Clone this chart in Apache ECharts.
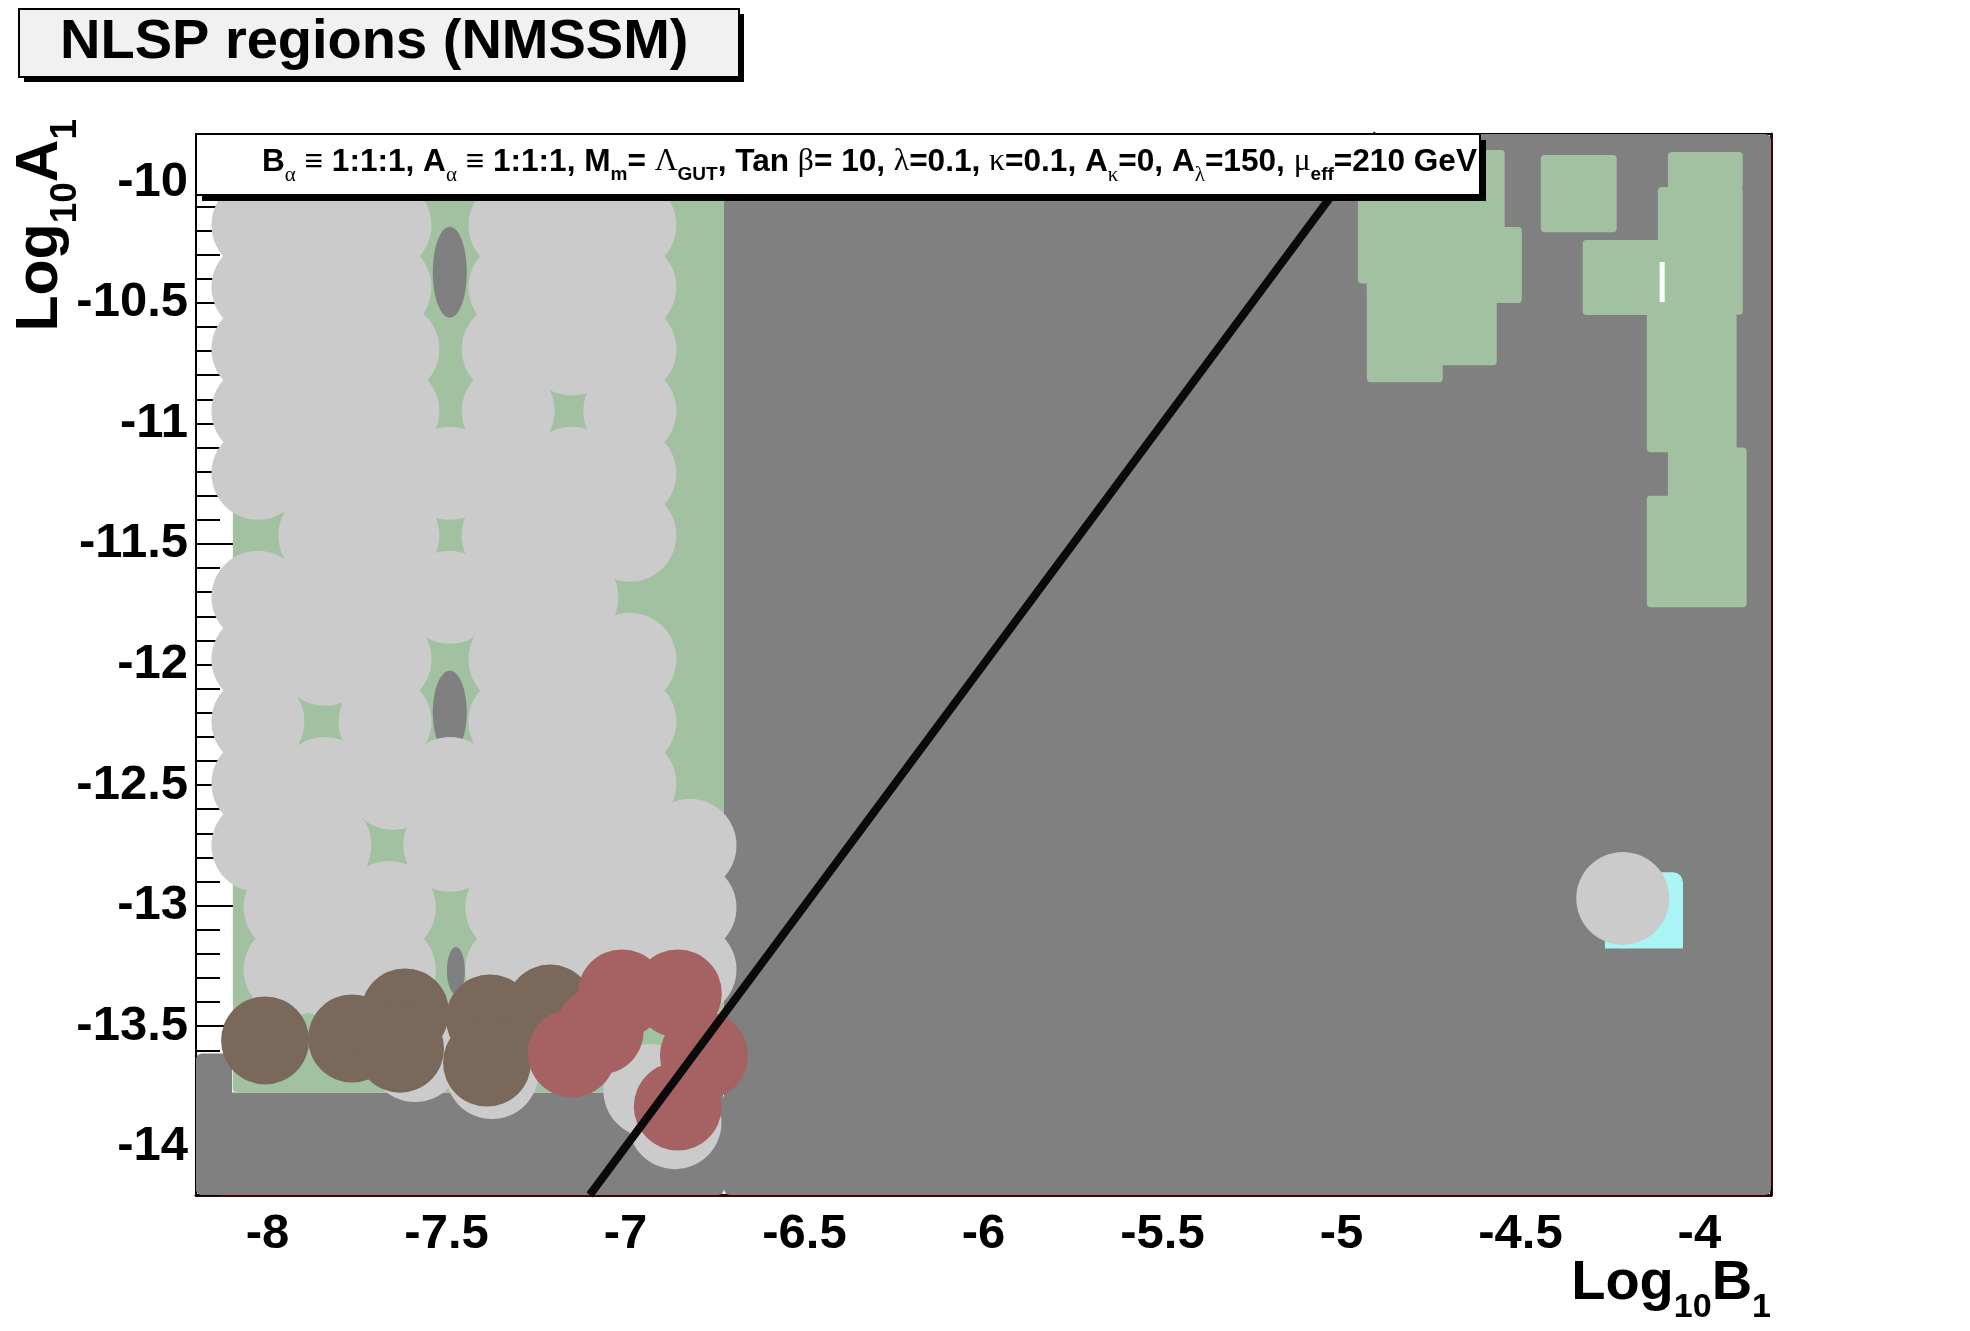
<!DOCTYPE html>
<html><head><meta charset="utf-8">
<script src="https://cdn.jsdelivr.net/npm/echarts@6.0.0/dist/echarts.min.js"></script>
<style>html,body{margin:0;padding:0;background:#fff}#c{width:1970px;height:1331px}</style>
</head><body><div id="c"></div>
<script>
// ---------------- data (log10 B1 , log10 A1) ----------------
const xRange = [-8.2, -3.8];
const yRange = [-14.2, -9.8];
const xTickValues = [-8, -7.5, -7, -6.5, -6, -5.5, -5, -4.5, -4];
const yTickValues = [-14, -13.5, -13, -12.5, -12, -11.5, -11, -10.5, -10];

// rectangular regions [x0, y0, x1, y1]
const darkGreyRegions = [
  [-6.725, -9.8, -3.8, -14.2],
  [-8.2, -13.775, -6.725, -14.2],
  [-8.2, -13.613, -8.099, -14.2],
  [-6.742, -11.397, -6.72, -11.738]
];
const greenRegions = [
  [-8.097, -9.9, -6.725, -13.775],
  [-4.954, -9.866, -4.544, -10.42],
  [-4.929, -10.186, -4.496, -10.501],
  [-4.929, -10.40, -4.566, -10.759],
  [-4.929, -10.74, -4.717, -10.829],
  [-4.443, -9.887, -4.231, -10.207],
  [-4.326, -10.240, -4.111, -10.551],
  [-4.088, -9.875, -3.879, -10.03],
  [-4.116, -10.020, -3.879, -10.55],
  [-4.147, -10.543, -3.896, -11.12],
  [-4.088, -11.10, -3.868, -11.32],
  [-4.147, -11.30, -3.868, -11.763]
];
const cyanRegions = [
  [-4.264, -12.862, -4.046, -13.178]
];
const whiteGaps = [
  [-4.111, -10.331, -4.097, -10.497]
];

// point-like regions
const darkGreyPoints = [[-7.491, -10.373], [-7.491, -12.198], [-7.474, -13.269]];
const lightGreyPoints = [
  [-8.027,-10.178],[-7.840,-10.178],[-7.672,-10.178],[-7.309,-10.178],[-7.150,-10.178],[-6.988,-10.178],
  [-8.027,-10.435],[-7.840,-10.435],[-7.672,-10.435],[-7.309,-10.435],[-7.150,-10.435],[-6.988,-10.435],
  [-8.027,-10.692],[-7.840,-10.692],[-7.650,-10.692],[-7.328,-10.692],[-7.150,-10.692],[-6.988,-10.692],
  [-8.027,-10.949],[-7.840,-10.949],[-7.650,-10.949],[-7.328,-10.949],[-6.988,-10.949],
  [-8.027,-11.207],[-7.840,-11.207],[-7.650,-11.207],[-7.491,-11.207],[-7.328,-11.207],[-7.150,-11.207],[-6.988,-11.207],
  [-7.840,-11.464],[-7.650,-11.464],[-7.328,-11.464],[-7.150,-11.464],[-6.988,-11.464],
  [-8.027,-11.721],[-7.840,-11.721],[-7.650,-11.721],[-7.491,-11.721],[-7.328,-11.721],[-7.150,-11.721],
  [-8.027,-11.978],[-7.840,-11.978],[-7.672,-11.978],[-7.309,-11.978],[-7.150,-11.978],[-6.988,-11.978],
  [-8.027,-12.236],[-7.672,-12.236],[-7.309,-12.236],[-7.150,-12.236],[-6.988,-12.236],
  [-8.027,-12.493],[-7.840,-12.493],[-7.650,-12.493],[-7.491,-12.493],[-7.328,-12.493],[-7.150,-12.493],[-6.988,-12.493],
  [-8.027,-12.750],[-7.840,-12.750],[-7.491,-12.750],[-7.328,-12.750],[-7.150,-12.750],[-6.988,-12.750],[-6.820,-12.750],
  [-7.937,-13.008],[-7.840,-13.008],[-7.660,-13.008],[-7.318,-13.008],[-7.150,-13.008],[-6.988,-13.008],[-6.820,-13.008],
  [-7.937,-13.265],[-7.840,-13.265],[-7.660,-13.265],[-7.318,-13.265],[-7.150,-13.265],[-6.988,-13.265],[-6.820,-13.265],
  [-7.588,-13.622],[-7.373,-13.692],[-6.862,-13.900],[-6.932,-13.767],
  [-4.214,-12.970]
];
const brownPoints = [
  [-8.007,-13.559],[-7.764,-13.551],[-7.616,-13.443],[-7.630,-13.593],
  [-7.379,-13.468],[-7.387,-13.651],[-7.211,-13.427]
];
const redPoints = [
  [-7.010,-13.364],[-6.854,-13.364],[-7.072,-13.518],[-7.150,-13.613],
  [-6.781,-13.622],[-6.854,-13.833]
];
const boundaryLine = [[-7.1, -14.2], [-4.9, -9.8]];

// ---------------- styling ----------------
const SANS = 'Liberation Sans, Arial, Helvetica, sans-serif';
const SERIF = 'Liberation Serif, DejaVu Serif, serif';
const commaSizes = [[34, 91], [34, 83], [18, 47]];
const ELLIPSE = 'path://M1,0 C1.55,0 2,0.45 2,1 C2,1.55 1.55,2 1,2 C0.45,2 0,1.55 0,1 C0,0.45 0.45,0 1,0 Z';

function rectRenderer(fill, radius) {
  return function (params, api) {
    const a = api.coord([api.value(0), api.value(1)]);
    const b = api.coord([api.value(2), api.value(3)]);
    return {
      type: 'rect',
      shape: { x: Math.min(a[0], b[0]), y: Math.min(a[1], b[1]),
               width: Math.abs(b[0] - a[0]), height: Math.abs(b[1] - a[1]), r: radius },
      style: { fill: fill }
    };
  };
}
function rectSeries(data, fill, radius) {
  return { type: 'custom', silent: true, data: data, encode: { x: [0, 2], y: [1, 3] },
           renderItem: rectRenderer(fill, radius) };
}
function dotSeries(data, color, size) {
  return { type: 'scatter', silent: true, data: data, symbol: 'circle', symbolSize: size,
           itemStyle: { color: color, opacity: 1 }, clip: true };
}

const chart = echarts.init(document.getElementById('c'), null, { renderer: 'canvas' });

const majorLabel = { fontSize: 49, fontWeight: 'bold', fontFamily: SANS, color: '#000' };

function subRich(mainSize, subSize, drop, mainLH) {
  return {
    m: { fontFamily: SANS, fontWeight: 'bold', fontSize: mainSize, lineHeight: mainLH, fill: '#000' },
    g: { fontFamily: SERIF, fontWeight: 'normal', fontSize: mainSize, lineHeight: mainLH, fill: '#000' },
    s: { fontFamily: SANS, fontWeight: 'bold', fontSize: subSize, lineHeight: subSize, padding: [drop, 0, 0, 0], fill: '#000' },
    sg: { fontFamily: SERIF, fontWeight: 'normal', fontSize: subSize + 2, lineHeight: subSize, padding: [drop, 0, 0, 0], fill: '#000' }
  };
}

const option = {
  animation: false,
  backgroundColor: '#ffffff',
  grid: { left: 196, top: 134, width: 1575, height: 1061, show: true, backgroundColor: '#ffffff',
          borderWidth: 0, containLabel: false, outerBoundsMode: 'none' },
  xAxis: [
    { type: 'value', min: xRange[0], max: xRange[1], position: 'bottom',
      axisLine: { show: true, onZero: false, lineStyle: { color: '#3c0505', width: 3 } },
      axisTick: { show: true, inside: true, length: 22, customValues: xTickValues, lineStyle: { color: '#000', width: 2 } },
      axisLabel: Object.assign({ customValues: xTickValues, margin: 15 }, majorLabel),
      splitLine: { show: false } },
    { type: 'value', min: xRange[0], max: xRange[1], interval: 0.1, position: 'bottom',
      axisLine: { show: false }, axisLabel: { show: false }, splitLine: { show: false },
      axisTick: { show: true, inside: true, length: 12, lineStyle: { color: '#000', width: 2 } } },
    { type: 'value', min: xRange[0], max: xRange[1], position: 'top',
      axisLine: { show: true, onZero: false, lineStyle: { color: '#000', width: 2 } },
      axisTick: { show: false }, axisLabel: { show: false }, splitLine: { show: false } }
  ],
  yAxis: [
    { type: 'value', min: yRange[0], max: yRange[1], position: 'left',
      axisLine: { show: true, onZero: false, lineStyle: { color: '#000', width: 2 } },
      axisTick: { show: true, inside: true, length: 48, customValues: yTickValues, lineStyle: { color: '#000', width: 2 } },
      axisLabel: Object.assign({ customValues: yTickValues, margin: 8 }, majorLabel),
      splitLine: { show: false } },
    { type: 'value', min: yRange[0], max: yRange[1], interval: 0.1, position: 'left',
      axisLine: { show: false }, axisLabel: { show: false }, splitLine: { show: false },
      axisTick: { show: true, inside: true, length: 24, lineStyle: { color: '#000', width: 2 } } },
    { type: 'value', min: yRange[0], max: yRange[1], position: 'right',
      axisLine: { show: true, onZero: false, lineStyle: { color: '#3c0505', width: 3 } },
      axisTick: { show: false }, axisLabel: { show: false }, splitLine: { show: false } }
  ],
  series: [
    rectSeries(darkGreyRegions, '#808080', 6),
    rectSeries(greenRegions, '#a1c1a1', 4),
    rectSeries(cyanRegions, '#aaf4f6', [0, 10, 0, 0]),
    { type: 'scatter', silent: true, data: darkGreyPoints, symbol: ELLIPSE,
      symbolSize: function (v, p) { return commaSizes[p.dataIndex]; },
      itemStyle: { color: '#808080', opacity: 1 } },
    dotSeries(lightGreyPoints, '#cbcbcb', 93),
    dotSeries(brownPoints, '#7a685b', 88),
    dotSeries(redPoints, '#a66262', 88),
    rectSeries(whiteGaps, '#ffffff', 0),
    { type: 'line', silent: true, data: boundaryLine, symbol: 'none', clip: true,
      lineStyle: { color: '#0a0a0a', width: 8 } }
  ],
  graphic: [
    { type: 'rect', z: 100, shape: { x: 24, y: 14, width: 720, height: 68 }, style: { fill: '#000' } },
    { type: 'rect', z: 101, shape: { x: 19, y: 9, width: 720, height: 68 },
      style: { fill: '#f1f1f1', stroke: '#000', lineWidth: 2 } },
    { type: 'text', z: 102, x: 60, y: 43,
      style: { text: 'NLSP regions (NMSSM)', fill: '#000', font: 'bold 56px ' + SANS,
               align: 'left', verticalAlign: 'middle' } },

    { type: 'rect', z: 100, shape: { x: 202, y: 140, width: 1284, height: 61 }, style: { fill: '#000' } },
    { type: 'rect', z: 101, shape: { x: 196, y: 134, width: 1284, height: 61 },
      style: { fill: '#ffffff', stroke: '#000', lineWidth: 2 } },
    { type: 'text', z: 102, x: 262, y: 162,
      style: {
        text: '{m|B}{sg|α}{m| ≡ 1:1:1, A}{sg|α}{m| ≡ 1:1:1, M}{s|m}{m|= }{g|Λ}{s|GUT}{m|, Tan }{g|β}{m|= 10, }{g|λ}{m|=0.1, }{g|κ}{m|=0.1, A}{sg|κ}{m|=0, A}{sg|λ}{m|=150, }{g|μ}{s|eff}{m|=210 GeV}',
        align: 'left', verticalAlign: 'middle',
        rich: subRich(31.6, 19, 26, 36)
      } },

    { type: 'text', z: 102, x: 41, y: 119, rotation: Math.PI / 2,
      style: {
        text: '{m|Log}{s|10}{m|A}{s|1}', align: 'right', verticalAlign: 'middle',
        rich: subRich(59, 37, 50, 59)
      } },
    { type: 'text', z: 102, x: 1771, y: 1284,
      style: {
        text: '{m|Log}{s|10}{m|B}{s|1}', align: 'right', verticalAlign: 'middle',
        rich: subRich(56, 34, 48, 56)
      } }
  ]
};
chart.setOption(option);
</script>
</body></html>
